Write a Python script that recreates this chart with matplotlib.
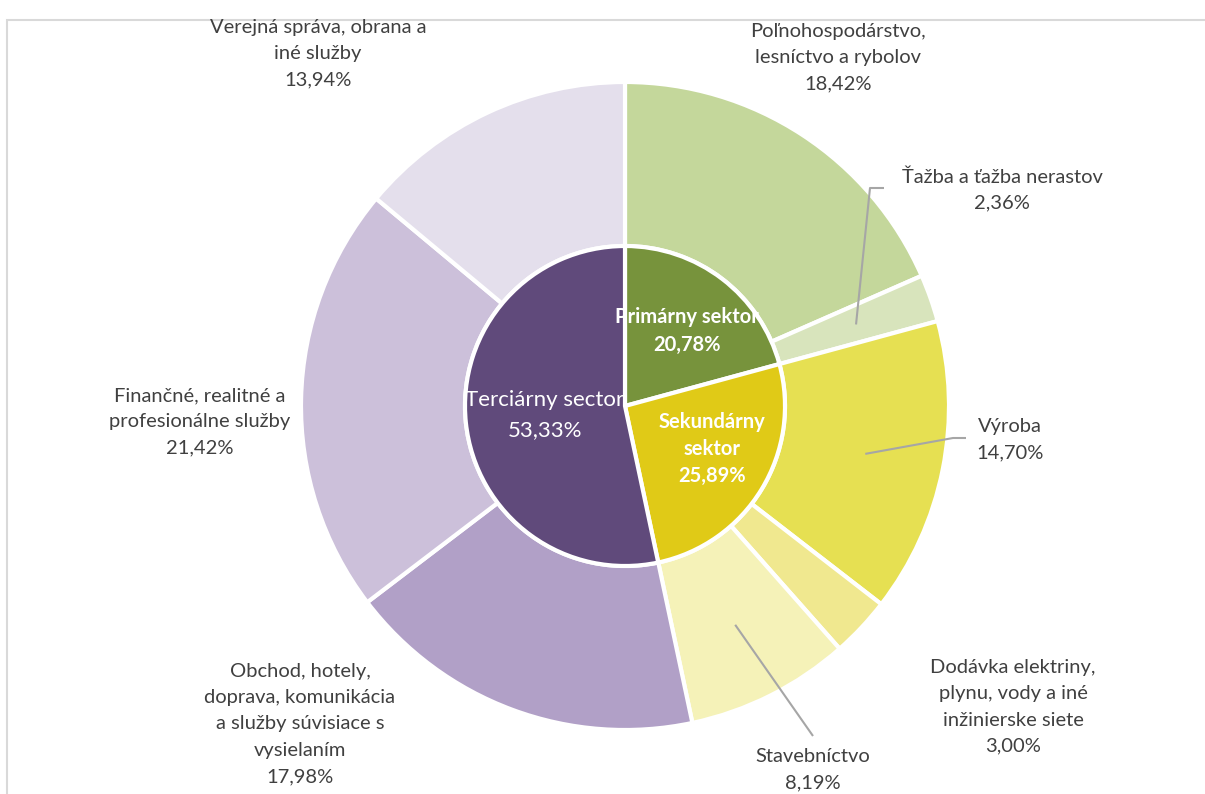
"""Two-ring pie: sectors of the economy (inner) and their branches (outer)"""

import numpy as np
import matplotlib.pyplot as plt
from matplotlib.patches import Rectangle

plt.rcParams["font.family"] = ["Lato", "DejaVu Sans"]

# inner ring - sectors
sector_names = ["Primárny sektor", "Sekundárny\nsektor", "Terciárny sector"]
sector_values = [20.78, 25.89, 53.33]
sector_colors = ["#77933C", "#E0CA17", "#604A7B"]
sector_bold = [True, True, False]

# outer ring - branches
branch_names = [
    "Poľnohospodárstvo,\nlesníctvo a rybolov",
    "Ťažba a ťažba nerastov",
    "Výroba",
    "Dodávka elektriny,\nplynu, vody a iné\ninžinierske siete",
    "Stavebníctvo",
    "Obchod, hotely,\ndoprava, komunikácia\na služby súvisiace s\nvysielaním",
    "Finančné, realitné a\nprofesionálne služby",
    "Verejná správa, obrana a\niné služby",
]
branch_values = [18.42, 2.36, 14.70, 3.00, 8.19, 17.98, 21.42, 13.94]
branch_colors = ["#C4D79B", "#D8E4BC", "#E6E052", "#F0E88F",
                 "#F5F2B8", "#B1A0C7", "#CCC0DA", "#E4DFEC"]

# label layout (pixel positions, y from top)
W, H = 1205, 794
cx, cy = 625, 406
r_in = 160
r_out = 324
branch_label_pos = [(838, 58), (1002, 190), (1010, 440), (1013, 707),
                    (813, 770), (300, 724), (200, 422), (318, 54)]
# branches with a leader line: index -> (elbow point, end point)
leaders = {1: ((870, 188), (884, 188)),
           2: ((953, 438), (966, 438)),
           4: ((813, 736), (813, 736))}
sector_label_pos = [(687, 331), (712, 449), (545, 415)]


def fmt(v):
    return f"{v:.2f}%".replace(".", ",")


fig = plt.figure(figsize=(W / 100, H / 100), dpi=100)
ax = fig.add_axes([0, 0, 1, 1])

center = (cx, H - cy)
ax.pie(branch_values, radius=r_out, center=center, startangle=90,
       counterclock=False, colors=branch_colors,
       wedgeprops=dict(width=r_out - r_in, edgecolor="white", linewidth=3))
ax.pie(sector_values, radius=r_in, center=center, startangle=90,
       counterclock=False, colors=sector_colors,
       wedgeprops=dict(edgecolor="white", linewidth=3))

ax.set_xlim(0, W)
ax.set_ylim(0, H)
ax.set_aspect("equal")
ax.axis("off")

# outer frame (runs past the right and bottom edge)
ax.add_patch(Rectangle((7, -10), W + 20, H - 10, fill=False,
                       edgecolor="#D9D9D9", linewidth=1.5, clip_on=False))

text_color = "#404040"
cum = np.cumsum([0] + branch_values)
r_mid = (r_in + r_out) / 2 + 3
for i, name in enumerate(branch_names):
    x, y = branch_label_pos[i]
    ax.text(x, H - y, name + "\n" + fmt(branch_values[i]), ha="center",
            va="center", fontsize=14.5, color=text_color, linespacing=1.66)
    if i in leaders:
        mid = (cum[i] + cum[i + 1]) / 2 / 100 * 360
        ang = np.deg2rad(90 - mid)
        sx = cx + r_mid * np.cos(ang)
        sy = cy - r_mid * np.sin(ang)
        (ex, ey), (fx, fy) = leaders[i]
        ax.plot([sx, ex, fx], [H - sy, H - ey, H - fy], color="#A6A6A6",
                linewidth=1.5, solid_capstyle="butt")

for i, name in enumerate(sector_names):
    x, y = sector_label_pos[i]
    bold = sector_bold[i]
    ax.text(x, H - y, name + "\n" + fmt(sector_values[i]), ha="center",
            va="center", fontsize=14.5 if bold else 16, color="white",
            linespacing=1.45 if bold else 1.65,
            fontweight="bold" if bold else "normal")

fig.savefig("out.png", dpi=100)
